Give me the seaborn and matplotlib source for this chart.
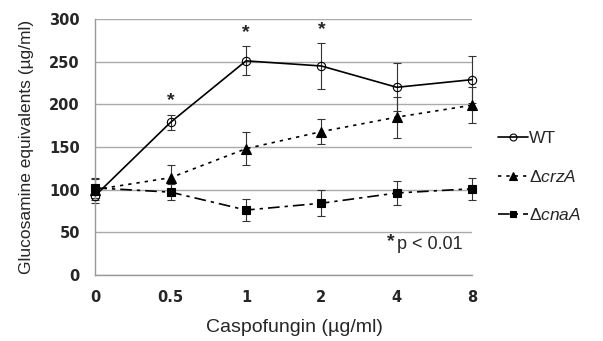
#!/usr/bin/env python3
import numpy as np
import pandas as pd
import matplotlib as mpl
mpl.use('Agg')
import matplotlib.pyplot as plt
from matplotlib.lines import Line2D
import seaborn as sns

# Data
doses = ['0', '0.5', '1', '2', '4', '8']
wt_mean = [93, 179, 251, 245, 220, 229]
wt_err = [9, 9, 17, 27, 28, 28]
crza_mean = [100, 114, 148, 168, 185, 199]
crza_err = [12, 15, 19, 15, 24, 21]
cnaa_mean = [102, 97, 76, 84, 96, 101]
cnaa_err = [12, 9, 13, 15, 14, 13]
star_doses = ['0.5', '1', '2']

sns.set_style('white')
plt.rcParams['font.family'] = ['Liberation Sans', 'DejaVu Sans']
plt.rcParams['mathtext.fontset'] = 'custom'
plt.rcParams['mathtext.rm'] = 'Liberation Sans'
plt.rcParams['mathtext.it'] = 'Liberation Sans:italic'

fig = plt.figure(figsize=(6.03, 3.41), dpi=100)
ax = fig.add_axes([0.158, 0.194, 0.625, 0.75])

pos = np.arange(len(doses))
series = [
    ('WT', wt_mean, wt_err, 'o', 'none', '-', 6),
    (r'$\Delta\mathit{crzA}$', crza_mean, crza_err, '^', 'black', (0, (2, 3)), 7),
    (r'$\Delta\mathit{cnaA}$', cnaa_mean, cnaa_err, 's', 'black', (0, (7, 3, 2, 3)), 6),
]

handles = []
for label, mean, err, marker, mfc, ls, ms in series:
    d = pd.DataFrame({'x': pos, 'y': mean})
    ax.errorbar(pos, mean, yerr=err, fmt='none', ecolor='#333333',
                elinewidth=0.8, capsize=3, capthick=0.8, zorder=2, clip_on=False)
    sns.lineplot(data=d, x='x', y='y', ax=ax, color='black', linewidth=1.2,
                 linestyle=ls, marker=marker, markersize=ms,
                 markerfacecolor=mfc, markeredgecolor='black',
                 markeredgewidth=0.8, zorder=3, clip_on=False)
    handles.append(Line2D([], [], color='black', linewidth=1.2, linestyle=ls,
                          marker=marker, markersize=ms - 1, markerfacecolor=mfc,
                          markeredgecolor='black', markeredgewidth=0.8,
                          label=label))

# significance stars
for sd in star_doses:
    i = doses.index(sd)
    ax.text(pos[i], wt_mean[i] + wt_err[i] + 6, '*', ha='center', va='bottom',
            fontsize=14, fontweight='bold')

ax.text(0.795, 0.095, '*', transform=ax.transAxes, ha='right', va='bottom',
        fontsize=14, fontweight='bold')
ax.text(0.80, 0.117, 'p < 0.01', transform=ax.transAxes, ha='left',
        va='center', fontsize=13)

ax.set_xlim(pos[0], pos[-1])
ax.set_ylim(0, 300)
ax.set_yticks(np.arange(0, 301, 50))
ax.set_xticks(pos)
ax.set_xticklabels(doses)
ax.yaxis.grid(True, color='#aaaaaa', linewidth=1)
ax.set_axisbelow(True)
for s in ['top', 'right']:
    ax.spines[s].set_visible(False)
for s in ['left', 'bottom']:
    ax.spines[s].set_color('#999999')
    ax.spines[s].set_linewidth(1)
ax.tick_params(axis='both', which='major', direction='out', length=4,
               color='#999999', labelsize=10.5, pad=7)
for t in ax.get_xticklabels() + ax.get_yticklabels():
    t.set_fontweight('bold')
    t.set_fontfamily('DejaVu Sans')
ax.set_xlabel('Caspofungin (µg/ml)', fontsize=14)
ax.xaxis.set_label_coords(0.528, -0.207)
ax.xaxis.label.set_va('center')
ax.set_ylabel('Glucosamine equivalents (µg/ml)', fontsize=12.5, labelpad=11)

fig.legend(handles=handles, loc='center left', bbox_to_anchor=(0.80, 0.48),
           frameon=False, fontsize=12.5, handlelength=1.7, handletextpad=0.1,
           labelspacing=1.3)

fig.savefig('out.png', dpi=100)
